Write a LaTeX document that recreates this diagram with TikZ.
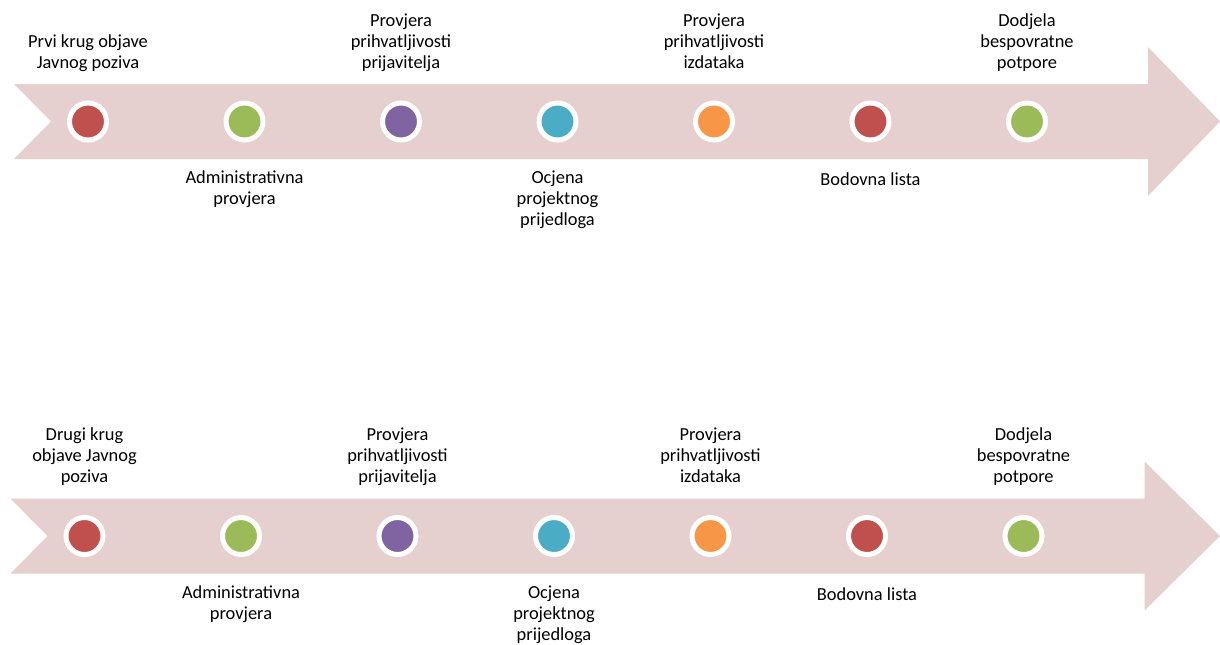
\documentclass[tikz,border=0pt]{standalone}
\usepackage{fontspec}
\setmainfont{Carlito}
\usepackage{tikz}
\usetikzlibrary{positioning}

\definecolor{bandpink}{RGB}{230,207,207}
\definecolor{dotred}{RGB}{192,80,77}
\definecolor{dotgreen}{RGB}{155,187,89}
\definecolor{dotpurple}{RGB}{128,100,162}
\definecolor{dotblue}{RGB}{75,172,198}
\definecolor{dotorange}{RGB}{247,150,70}

\begin{document}
\begin{tikzpicture}[x=0.5pt, y=-0.5pt,
  dot/.style={circle, fill=#1, draw=white, line width=2.5pt, minimum size=18.5pt, inner sep=0pt},
  steplabel/.style={font=\fontsize{9.2}{10.5}\selectfont, align=center, inner sep=0pt,
    execute at begin node=\strut, execute at end node=\strut}]
\useasboundingbox (0,0) rectangle (1220,644);

% Two timelines: first and second round of the call
\foreach \r/\dx/\yc/\first in {1/0/121.5/{Prvi krug objave\\Javnog poziva},
                               2/-3.5/536/{Drugi krug\\objave Javnog\\poziva}} {
  % Arrow band with notched tail
  \fill[bandpink] (14+\dx,\yc-37.5) -- (1148+\dx,\yc-37.5) -- (1148+\dx,\yc-74.5)
    -- (1220,\yc) -- (1148+\dx,\yc+74.5) -- (1148+\dx,\yc+37.5)
    -- (14+\dx,\yc+37.5) -- (51+\dx,\yc) -- cycle;

  % Milestone dots
  \foreach \i/\col in {1/dotred, 2/dotgreen, 3/dotpurple, 4/dotblue,
                       5/dotorange, 6/dotred, 7/dotgreen}
    \node[dot=\col] (c\r-\i) at ({88+156.5*(\i-1)+\dx}, \yc) {};

  % Labels above
  \node[steplabel, anchor=south] (t\r-1) at ([yshift=23.4pt]c\r-1.center) {\first};
  \node[steplabel, anchor=south] (t\r-3) at ([yshift=23.4pt]c\r-3.center) {Provjera\\prihvatljivosti\\prijavitelja};
  \node[steplabel, anchor=south] (t\r-5) at ([yshift=23.4pt]c\r-5.center) {Provjera\\prihvatljivosti\\izdataka};
  \node[steplabel, anchor=south] (t\r-7) at ([yshift=23.4pt]c\r-7.center) {Dodjela\\bespovratne\\potpore};

  % Labels below
  \node[steplabel, anchor=north] (t\r-2) at ([yshift=-24.6pt]c\r-2.center) {Administrativna\\provjera};
  \node[steplabel, anchor=north] (t\r-4) at ([yshift=-24.6pt]c\r-4.center) {Ocjena\\projektnog\\prijedloga};
  \node[steplabel, anchor=north] (t\r-6) at ([yshift=-24.6pt]c\r-6.center) {Bodovna lista};
}
\end{tikzpicture}
\end{document}
